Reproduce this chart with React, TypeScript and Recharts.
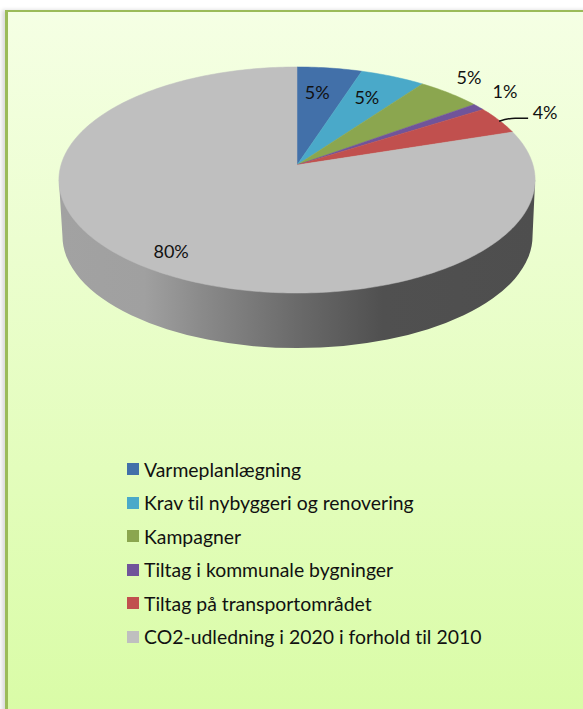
import React from "react";
import { PieChart, Pie, Legend } from "recharts";

const categories = [
  "Varmeplanlægning",
  "Krav til nybyggeri og renovering",
  "Kampagner",
  "Tiltag i kommunale bygninger",
  "Tiltag på transportområdet",
  "CO2-udledning i 2020 i forhold til 2010",
];
const values = [5, 5, 5, 1, 4, 80];
const colors = ["#4270a9", "#4aa9c9", "#8ba64f", "#70549a", "#c1504e", "#bfbfbf"];
const labelNudges = [
  [-12.5, 24],
  [-26, 20.5],
  [19.5, -16],
  [26.4, -16],
  [46, -8],
  [29.5, -14.6],
];

const data = categories.map((name, i) => ({ name, value: values[i], fill: colors[i] }));

const FONT = "Lato, Carlito, sans-serif";
const TILT = 0.4705; // vertical squash of the disc
const PERSPECTIVE = 0.1327; // far edge is foreshortened
const DEPTH = 56;

const RAD = Math.PI / 180;
function project(cx: number, cy: number, r: number, angle: number, rho = 1) {
  const u = Math.sin(angle * RAD) * rho;
  const v = Math.cos(angle * RAD) * rho;
  const d = 1 + PERSPECTIVE * u;
  return { x: cx + (r * v) / d, y: cy - (r * TILT * u) / d };
}

function DiscSector(props: any) {
  const { cx, cy, outerRadius: r, startAngle, endAngle, fill } = props;
  const lo = Math.min(startAngle, endAngle);
  const hi = Math.max(startAngle, endAngle);
  const pts: string[] = [`${cx},${cy}`];
  for (let a = hi; a > lo; a -= 1) {
    const p = project(cx, cy, r, a);
    pts.push(`${p.x.toFixed(2)},${p.y.toFixed(2)}`);
  }
  const e = project(cx, cy, r, lo);
  pts.push(`${e.x.toFixed(2)},${e.y.toFixed(2)}`);

  // The wall is only visible on the slice that covers the front of the disc.
  const front = hi - lo > 180;
  const left = cx - r * 1.009;
  const right = cx + r * 1.009;
  const midY = cy + 15;
  const bl = cx - r * 0.996 + 0.5;
  const br = cx + r * 0.996 + 0.5;
  const wall = `M${left},${midY} L${bl},${midY + DEPTH} A${(br - bl) / 2},${r * 0.475} 0 0 0 ${br},${midY + DEPTH} L${right},${midY} Z`;

  return (
    <g>
      {front && (
        <>
          <defs>
            <linearGradient id="wallShade" gradientUnits="userSpaceOnUse" x1={left} x2={right} y1="0" y2="0">
              <stop offset="0" stopColor="#a2a2a2" />
              <stop offset="0.18" stopColor="#a0a0a0" />
              <stop offset="0.3" stopColor="#8a8a8a" />
              <stop offset="0.5" stopColor="#6a6a6a" />
              <stop offset="0.68" stopColor="#505050" />
              <stop offset="1" stopColor="#4e4e4e" />
            </linearGradient>
          </defs>
          <path d={wall} fill="url(#wallShade)" />
        </>
      )}
      <polygon points={pts.join(" ")} fill={fill} stroke={fill} strokeWidth={0.5} strokeLinejoin="round" />
    </g>
  );
}

function renderLabel(props: any) {
  const { cx, cy, outerRadius, midAngle, percent, index } = props;
  const rim = project(cx, cy, outerRadius, midAngle);
  const [dx, dy] = labelNudges[index];
  const x = rim.x + dx;
  const y = rim.y + dy;
  return (
    <g key={index}>
      {index === 4 && (
        <path
          d={`M${rim.x},${rim.y + 1} Q${rim.x + 9},${rim.y - 2} ${rim.x + 16},${rim.y - 2} L${rim.x + 29},${rim.y - 2}`}
          fill="none"
          stroke="#111"
          strokeWidth={1.5}
        />
      )}
      <text x={x} y={y} fill="#111" fontFamily={FONT} fontSize={18} textAnchor="middle" dominantBaseline="central" style={{ fontVariantLigatures: "none" }}>
        {`${Math.round(percent * 100)}%`}
      </text>
    </g>
  );
}

function LegendList({ payload }: any) {
  return (
    <div style={{ fontFamily: FONT, fontSize: 19.4, color: "#111", fontVariantLigatures: "none" }}>
      {(payload || []).map((entry: any) => (
        <div key={entry.value} style={{ display: "flex", alignItems: "center", height: 33.5, whiteSpace: "nowrap" }}>
          <span style={{ display: "inline-block", width: 12, height: 12, background: entry.color, marginRight: 5 }} />
          <span>{entry.value}</span>
        </div>
      ))}
    </div>
  );
}

export default function App() {
  return (
    <div style={{ position: "absolute", left: 0, top: 0, width: 583, height: 709, overflow: "hidden", background: "#fff" }}>
      <div
        style={{
          position: "absolute",
          left: 5,
          top: 10,
          right: -10,
          bottom: -10,
          boxSizing: "border-box",
          borderTop: "2px solid #9bbb59",
          borderLeft: "3px solid #9bbb59",
          background: "linear-gradient(180deg, #f5ffe4 0%, #d9fca6 100%)",
          boxShadow: "-3px 0 4px rgba(0,0,0,0.15)",
        }}
      />
      <div style={{ position: "absolute", left: 0, top: 0 }}>
        <PieChart width={583} height={709} margin={{ top: 0, right: 0, bottom: 0, left: 0 }}>
          <Pie
            data={data}
            dataKey="value"
            nameKey="name"
            cx={297}
            cy={165}
            outerRadius={236}
            startAngle={90}
            endAngle={-270}
            stroke="none"
            isAnimationActive={false}
            shape={DiscSector}
            label={renderLabel}
            labelLine={false}
          />
          <Legend
            layout="horizontal"
            align="left"
            verticalAlign="bottom"
            itemSorter={null as any}
            content={LegendList as any}
            wrapperStyle={{ left: 127, top: 452.5, bottom: "auto", width: 420 }}
          />
        </PieChart>
      </div>
    </div>
  );
}
